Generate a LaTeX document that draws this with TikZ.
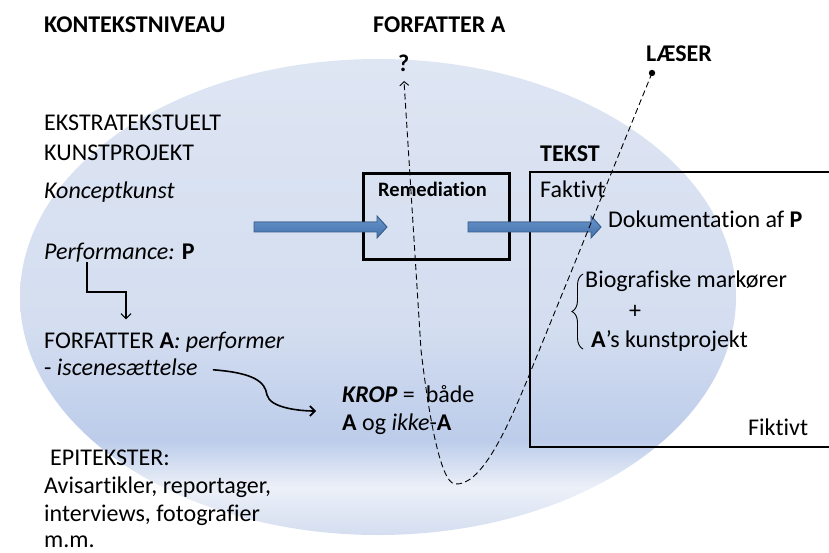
\documentclass[tikz,border=0pt]{standalone}
\usepackage{fontspec}
\setmainfont{Carlito}[Ligatures=NoCommon]
\usetikzlibrary{arrows.meta,decorations.pathreplacing}

\definecolor{ellTop}{RGB}{222,229,243}
\definecolor{ellMid}{RGB}{212,222,240}
\definecolor{ellDark}{RGB}{188,204,234}
\definecolor{ellBand}{RGB}{236,240,248}
\definecolor{ellBot}{RGB}{212,222,240}
\definecolor{arrowTop}{RGB}{104,148,204}
\definecolor{arrowBot}{RGB}{70,114,172}
\definecolor{arrowEdge}{RGB}{56,93,138}
\pgfdeclareverticalshading{kontekst}{100bp}{color(0bp)=(ellBot); color(25bp)=(ellBot); color(30bp)=(ellBand); color(35bp)=(ellDark); color(47bp)=(ellMid); color(75bp)=(ellTop); color(100bp)=(ellTop)}

\tikzset{
  txt/.style={anchor=base west, inner sep=0pt, font=\fontsize{24}{29}\selectfont},
  head/.style={txt, font=\fontsize{24}{29}\selectfont\bfseries},
  frame/.style={line width=2.8pt},
  fatarrow/.style={draw=arrowEdge, line width=0.9pt, top color=arrowTop, bottom color=arrowBot},
  readerline/.style={dash pattern=on 6pt off 3.5pt, line width=0.9pt},
  vtip/.style={-{Straight Barb[length=5pt,width=10pt]}},
}

\begin{document}
\begin{tikzpicture}[x=1pt,y=-1pt]
            \useasboundingbox (0,0) rectangle (829,553);
            \shade[shading=kontekst] (378,297) ellipse [x radius=358, y radius=238];

            % rammer
            \node[draw, frame, minimum width=146pt, minimum height=86pt, anchor=north west] (remedbox) at (362,172) {};
            \draw[frame] (829,172) -- (530,172) -- (530,447) -- (829,447);

            % blaa pile
            \filldraw[fatarrow] (254,222) -- ++(123,0) -- ++(0,-6) -- ++(10,11) -- ++(-10,11) -- ++(0,-6) -- ++(-123,0) -- cycle;
            \filldraw[fatarrow] (468,222) -- ++(123,0) -- ++(0,-6) -- ++(10,11) -- ++(-10,11) -- ++(0,-6) -- ++(-123,0) -- cycle;

            % overskrifter
            \node[head] (kontekst) at (44,33) {KONTEKSTNIVEAU};
            \node[head] (forfatter) at (373,33) {FORFATTER A};
            \node[head] (spm) at (398,72) {?};
            \node[head] (laeser) at (646,62) {LÆSER};
            \node[head] (tekst) at (540,162) {TEKST};
            \node[txt, font=\fontsize{20.5}{24}\selectfont\bfseries] (remed) at (378,197) {Remediation};

            % venstre side
            \node[txt] (ekstra) at (44,131) {EKSTRATEKSTUELT};
            \node[txt] (kunstproj) at (44,161) {KUNSTPROJEKT};
            \node[txt] (koncept) at (44,199) {\itshape Konceptkunst};
            \node[txt] (perf) at (44,259) {\textit{Performance:} \textbf{P}};
            \node[txt] (forfA) at (44,348) {FORFATTER \textbf{A}\textit{: performer}};
            \node[txt] (iscen) at (44,375) {- \textit{iscenesættelse}};
            \node[txt] (krop) at (342,402) {\textbf{\textit{KROP}} =\ \ både};
            \node[txt] (ogikke) at (342,430) {\textbf{A} og \textit{ikke}-\textbf{A}};
            \node[txt] (epi) at (50,465) {EPITEKSTER:};
            \node[txt] (avis) at (44,493) {Avisartikler, reportager,};
            \node[txt] (interv) at (44,521) {interviews, fotografier};
            \node[txt] (mm) at (44,547) {m.m.};

            % tekst-feltet
            \node[txt] (faktivt) at (540,198) {Faktivt};
            \node[txt] (dok) at (608,228) {Dokumentation af \textbf{P}};
            \node[txt] (bio) at (585,287) {Biografiske markører};
            \node[txt] (plus) at (629,318) {+};
            \node[txt] (akunst) at (591,347) {\textbf{A}’s kunstprojekt};
            \node[txt] (fiktivt) at (748,435) {Fiktivt};
            \draw[line width=0.9pt, decorate, decoration={brace, amplitude=11pt}] (583,349) -- (583,274);

            % pile
            \coordinate (knaek) at (126,292);
            \draw[vtip, line width=1.1pt] (87,0 |- perf.south) |- (knaek) -- ([yshift=12pt]forfA.north -| knaek);
            \coordinate (kropind) at (316,411);
            \draw[vtip, line width=1.6pt] ([xshift=15pt,yshift=-3pt]iscen.east) .. controls (255,373) and (265,382) .. (267,395) .. controls (270,408) and (300,411) .. (kropind);

            % laeserens linje
            \coordinate (laeserpkt) at (652,73);
            \coordinate (spmtip) at (404,81);
            \fill (laeserpkt) circle (3.2pt);
            \draw[readerline, -{Straight Barb[length=4pt,width=9pt]}] (laeserpkt) -- (530,373) .. controls (505,435) and (480,486) .. (455,484) .. controls (440,483) and (428,410) .. (421,350) -- (spmtip);
        \end{tikzpicture}
\end{document}
